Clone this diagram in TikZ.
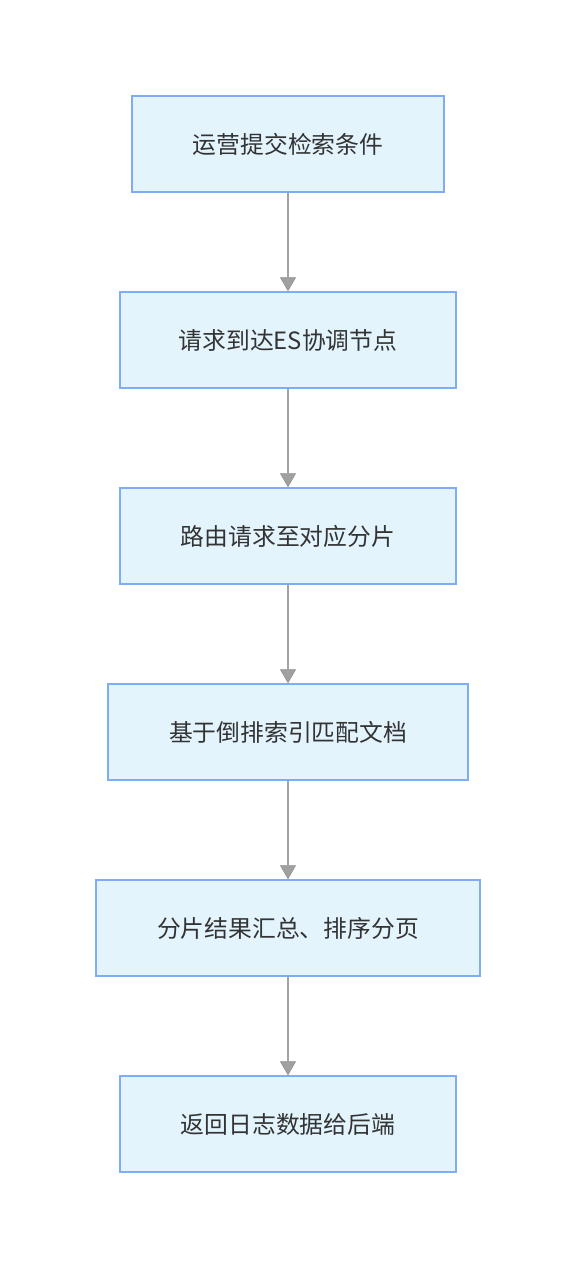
\documentclass[tikz,border=0pt]{standalone}
\usepackage{fontspec}
\newfontfamily\cjk{Noto Sans CJK SC}
\usetikzlibrary{arrows.meta}
\definecolor{boxfill}{HTML}{E3F4FD}
\definecolor{boxline}{HTML}{7EADF7}
\definecolor{conn}{HTML}{A3A3A3}
\definecolor{tipc}{HTML}{A0A0A0}
\definecolor{tipline}{HTML}{8C8C8C}
\definecolor{txt}{HTML}{333333}
\tikzset{
  stepbox/.style={draw=boxline, fill=boxfill, line width=1.5pt, minimum height=96pt, inner sep=0pt, text=txt, font=\cjk\fontsize{23.8}{28}\selectfont},
  flow/.style={draw=conn, line width=1.5pt, -{Triangle[width=16pt,length=14pt,fill=tipc,color=tipline,line width=0.5pt]}}
}
\begin{document}
\begin{tikzpicture}[x=1pt,y=-1pt]
\useasboundingbox (0,0) rectangle (576,1268);
\node[stepbox, minimum width=312pt] (a) at (288,144) {运营提交检索条件};
\node[stepbox, minimum width=336pt] (b) at (288,340) {请求到达ES协调节点};
\node[stepbox, minimum width=336pt] (c) at (288,536) {路由请求至对应分片};
\node[stepbox, minimum width=360pt] (d) at (288,732) {基于倒排索引匹配文档};
\node[stepbox, minimum width=384pt] (e) at (288,928) {分片结果汇总、排序分页};
\node[stepbox, minimum width=336pt] (f) at (288,1124) {返回日志数据给后端};
\draw[flow] (a) -- (b);
\draw[flow] (b) -- (c);
\draw[flow] (c) -- (d);
\draw[flow] (d) -- (e);
\draw[flow] (e) -- (f);
\end{tikzpicture}
\end{document}
